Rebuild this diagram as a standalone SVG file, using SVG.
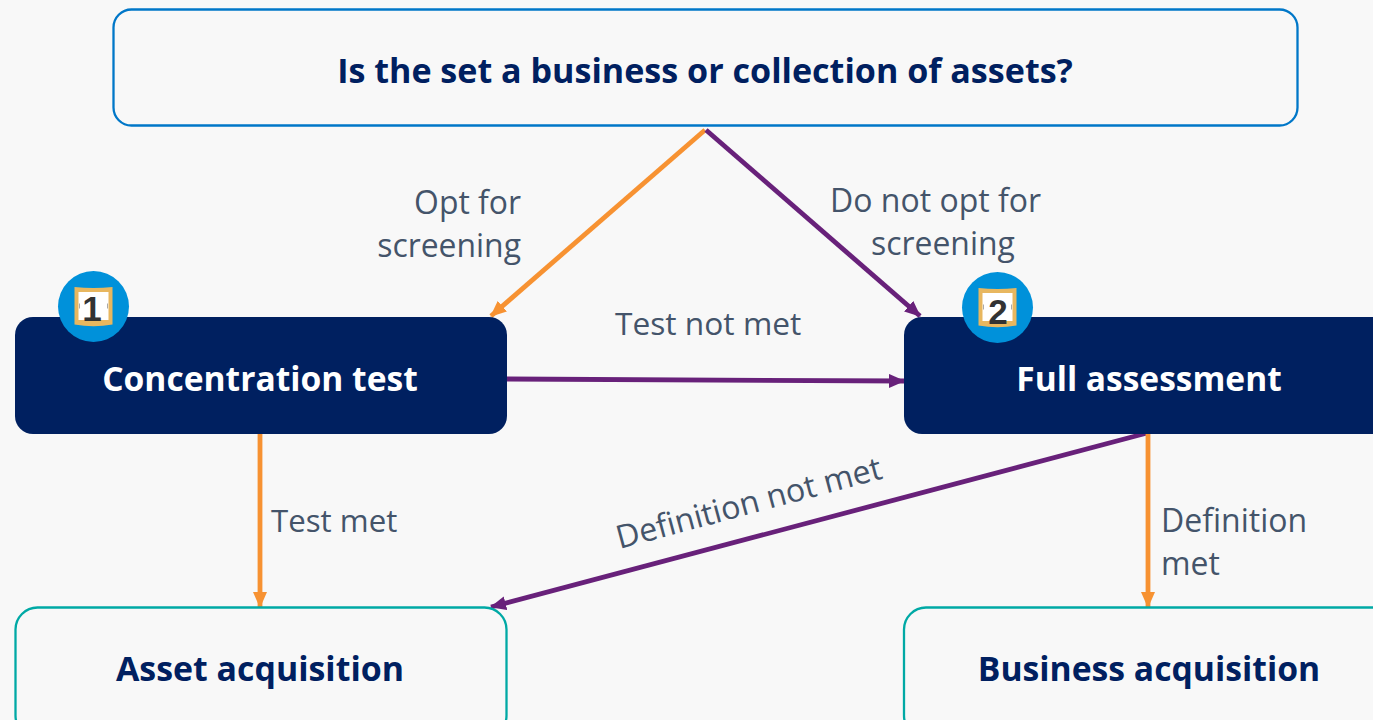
<svg xmlns="http://www.w3.org/2000/svg" width="1373" height="720" viewBox="0 0 1373 720">
<defs>
<style>
text{font-family:"Open Sans","Noto Sans",sans-serif}
.t{font-weight:700;fill:#002060;text-anchor:middle}
.w{font-weight:700;fill:#fff;text-anchor:middle}
.l{fill:#44546a;font-size:31.900px}
.o{stroke:#f79232;stroke-width:4.800;fill:none}
.p{stroke:#68217a;stroke-width:4.800;fill:none}
.n{font-family:"Liberation Sans",sans-serif;font-weight:700;font-size:35px;fill:#333;text-anchor:middle}
.bx{fill:none;stroke-width:2.300}
</style>
<marker id="ao" markerUnits="userSpaceOnUse" markerWidth="16" markerHeight="14" refX="15" refY="7" orient="auto"><path d="M0 0L16 7L0 14Z" fill="#f79232"/></marker>
<marker id="ap" markerUnits="userSpaceOnUse" markerWidth="16" markerHeight="14" refX="15" refY="7" orient="auto"><path d="M0 0L16 7L0 14Z" fill="#68217a"/></marker>
<g id="badge"><circle r="35.500" fill="#0091da"/><path d="M-19-19.500Q0-17.500 19-19.500V18Q0 21.500-19 18Z" fill="#e8b75f"/><rect x="-15" y="-14.500" width="30" height="28" fill="#fff"/><path d="M-14-3V2M14-3V2" stroke="#aaa" stroke-width="1"/></g>
</defs>
<rect width="1373" height="720" fill="#f8f8f8"/>
<g id="connectors">
<path class="o" marker-end="url(#ao)" d="M705 130L491 316"/>
<path class="p" marker-end="url(#ap)" d="M706 130L920 316"/>
<path class="p" marker-end="url(#ap)" d="M507 379L904 381"/>
<path class="o" marker-end="url(#ao)" d="M260 432V607"/>
<path class="p" marker-end="url(#ap)" d="M1147 433L491 607"/>
<path class="o" marker-end="url(#ao)" d="M1148 432V607"/>
</g>
<g id="labels">
<text class="l" x="521" y="213.500" text-anchor="end">Opt for</text>
<text class="l" x="521" y="256.500" text-anchor="end">screening</text>
<text class="l" x="830" y="211.500" style="font-size:32px">Do not opt for</text>
<text class="l" x="871" y="254.500">screening</text>
<text class="l" x="615" y="334.500" style="font-size:31.700px">Test not met</text>
<text class="l" x="271" y="531.500" style="font-size:31.200px">Test met</text>
<text class="l" x="1161" y="531.500" style="font-size:32px">Definition</text>
<text class="l" x="1161" y="574.500">met</text>
<text class="l" transform="translate(619.500 549) rotate(-15)" style="font-size:32.200px">Definition not met</text>
</g>
<g id="question"><rect x="113.500" y="9.500" width="1184" height="116" rx="18" class="bx" stroke="#0077c8"/><text class="t" x="705" y="83" font-size="34.100">Is the set a business or collection of assets?</text></g>
<g id="concentration"><rect x="15" y="317" width="492" height="117" rx="18" fill="#002060"/><text class="w" x="260" y="391" font-size="33.600">Concentration test</text></g>
<g id="full"><rect x="904" y="317" width="490" height="117" rx="18" fill="#002060"/><text class="w" x="1149" y="391" font-size="33.500">Full assessment</text></g>
<g id="asset"><rect x="15.500" y="607.500" width="491" height="130" rx="22" class="bx" stroke="#00a9a5"/><text class="t" x="260" y="681" font-size="33.900">Asset acquisition</text></g>
<g id="business"><rect x="904" y="607.500" width="491" height="130" rx="22" class="bx" stroke="#00a9a5"/><text class="t" x="1149" y="681" font-size="33.700">Business acquisition</text></g>
<g id="badge1"><use href="#badge" x="93.500" y="306.500"/><text class="n" x="92" y="321">1</text></g>
<g id="badge2"><use href="#badge" x="997.500" y="307.500"/><text class="n" x="998" y="324">2</text></g>
</svg>
